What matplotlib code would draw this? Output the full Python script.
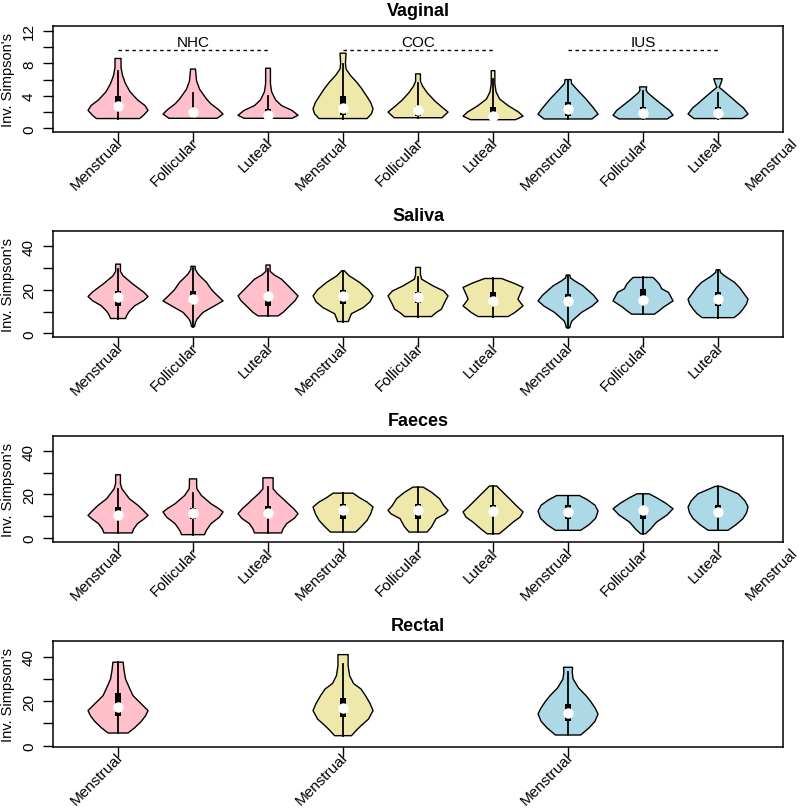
import matplotlib
matplotlib.use("Agg")
import matplotlib.pyplot as plt
from matplotlib.patches import Polygon, Rectangle

plt.rcParams['font.family'] = ['Liberation Sans', 'DejaVu Sans']

phases = ["Menstrual", "Follicular", "Luteal"] * 3
groups = ["NHC", "COC", "IUS"]
fills = ["#FFC0CB"] * 3 + ["#EEE8AA"] * 3 + ["#ADD8E6"] * 3

# violin outlines: (value, relative half width), bottom to top
vag_shape = [
    [(1.2, .72), (1.6, .85), (2.2, 1.0), (2.8, .9), (3.5, .65), (4.5, .4), (5.5, .25), (6.5, .15), (7.5, .1), (8.6, .1)],
    [(1.23, .8), (1.75, 1.0), (2.3, .85), (3.0, .6), (3.6, .45), (4.8, .22), (5.8, .12), (7.3, .08)],
    [(1.23, .8), (1.6, 1.0), (2.2, .8), (2.8, .45), (3.5, .25), (4.5, .12), (5.5, .08), (7.4, .08)],
    [(1.2, .8), (1.8, .95), (2.4, 1.0), (3.2, .92), (4.0, .78), (5.0, .6), (5.7, .45), (6.5, .25), (7.3, .1), (8.0, .08), (9.25, .1)],
    [(1.3, .8), (2.0, 1.0), (2.6, .8), (3.4, .55), (4.4, .3), (5.2, .15), (5.8, .08), (6.7, .08)],
    [(1.06, .75), (1.5, 1.0), (2.0, .85), (2.8, .5), (3.6, .22), (4.5, .1), (5.5, .06), (7.1, .06)],
    [(1.15, .8), (1.75, 1.0), (2.5, .85), (3.6, .6), (4.3, .42), (4.85, .28), (5.5, .12), (6.0, .1)],
    [(1.15, .8), (1.6, 1.0), (2.2, .88), (2.8, .67), (3.6, .4), (4.4, .15), (4.7, .1), (5.1, .12)],
    [(1.2, .8), (1.75, 1.0), (2.5, .85), (3.2, .62), (3.6, .5), (4.4, .25), (5.05, .04), (5.6, .1), (6.1, .14)],
]
# (whisker low, q1, median, q3, whisker high)
vag_box = [(1.2, 2.2, 2.7, 4.0, 7.1), (1.23, 1.5, 2.0, 2.5, 4.4), (1.23, 1.3, 1.65, 2.4, 4.0),
           (1.2, 1.65, 2.5, 4.0, 7.9), (1.3, 1.55, 2.2, 2.8, 5.6), (1.06, 1.35, 1.55, 2.6, 6.1),
           (1.15, 1.55, 2.4, 3.2, 5.9), (1.15, 1.6, 1.9, 2.6, 4.6), (1.2, 1.55, 1.85, 2.6, 4.4)]

sal_shape = [
    [(6.8, .25), (8.5, .3), (10, .37), (12.6, .55), (15, .85), (16.9, 1.0), (19, .85), (22.6, .5), (26.4, .17), (28.5, .08), (31.8, .08)],
    [(3.1, .05), (5, .08), (6.5, .13), (9.6, .33), (12.5, .7), (14.9, 1.0), (17.5, .8), (20, .62), (23.4, .45), (27.2, .17), (29.5, .07), (30.8, .07)],
    [(8.0, .33), (9.6, .5), (12.6, .72), (15, .9), (17.2, 1.0), (20, .8), (24.9, .45), (26.9, .2), (28.5, .07), (31.4, .07)],
    [(5.4, .18), (7, .22), (9, .28), (11.8, .67), (14.5, .9), (17.2, 1.0), (20, .85), (23.4, .55), (26.5, .2), (28.8, .04)],
    [(7.7, .45), (9.5, .6), (11.1, .78), (14, .88), (17.2, 1.0), (19.5, .85), (21.8, .5), (24.9, .12), (27, .08), (30.3, .08)],
    [(7.7, .5), (9.5, .72), (12.6, 1.0), (14, .92), (15.7, .83), (18, .9), (21.1, 1.0), (23, .7), (25.2, .28)],
    [(2.6, .06), (4, .08), (5.7, .13), (9.6, .45), (12.5, .8), (14.9, 1.0), (17.5, .85), (21.8, .5), (24.1, .22), (25.5, .08), (26.8, .06)],
    [(8.8, .38), (10.5, .55), (11.9, .67), (14.9, 1.0), (17, .92), (18.8, .85), (20.5, .62), (22.5, .55), (24.5, .42), (25.7, .33)],
    [(7.2, .53), (9, .7), (11.1, .83), (13.5, .95), (15.7, 1.0), (18.5, .85), (21, .72), (23.4, .55), (26.4, .22), (28, .08), (29.2, .06)],
]
sal_box = [(6.8, 12.6, 16.5, 19.5, 29.5), (3.1, 13.3, 15.7, 19.5, 30.0), (8.0, 12.6, 17.2, 18.9, 29.5),
           (5.4, 13.3, 17.2, 20.0, 28.8), (7.7, 13.8, 16.5, 18.9, 26.0), (7.7, 12.6, 14.9, 19.1, 25.2),
           (2.6, 13.8, 14.9, 18.0, 26.5), (8.8, 14.5, 15.3, 20.3, 25.7), (7.2, 12.6, 15.7, 19.1, 29.0)]

fae_shape = [
    [(2.2, .47), (4, .52), (6.5, .65), (8.5, .85), (10.3, 1.0), (12.5, .85), (14.9, .67), (18, .38), (22.6, .13), (25, .08), (29.1, .08)],
    [(1.4, .38), (3.5, .45), (6.5, .6), (9.5, .88), (11.9, 1.0), (13.5, .85), (15.7, .6), (19.5, .28), (22.6, .13), (24.5, .12), (27.2, .12)],
    [(2.2, .45), (4, .5), (6.5, .62), (9, .88), (11.1, 1.0), (13.5, .85), (16, .65), (18, .5), (20.5, .3), (22.6, .17), (25, .17), (27.7, .17)],
    [(2.6, .42), (5, .6), (8, .8), (11, .92), (14.2, 1.0), (16.5, .8), (18.5, .55), (20.6, .33)],
    [(2.6, .3), (5, .45), (8.8, .6), (11, .9), (12.6, 1.0), (15, .85), (18, .72), (21, .45), (23.4, .17)],
    [(1.8, .2), (4, .4), (7.2, .67), (9.5, .9), (11.9, 1.0), (14.5, .8), (18, .55), (21, .33), (23.9, .12)],
    [(3.4, .42), (6, .7), (9, .92), (12.3, 1.0), (15, .9), (17.5, .65), (19.5, .38)],
    [(1.8, .08), (4, .25), (7.2, .45), (10.5, .8), (13.4, 1.0), (16, .75), (18.5, .45), (20.3, .2)],
    [(3.4, .33), (6, .6), (8.8, .83), (11.5, .95), (14.2, 1.0), (17, .9), (20.3, .67), (22.5, .3), (23.7, .1)],
]
fae_box = [(2.2, 8.5, 10.6, 14.2, 22.6), (1.4, 8.5, 11.6, 13.5, 20.9), (2.2, 9.1, 11.6, 14.6, 23.5),
           (2.6, 8.8, 12.6, 15.7, 20.6), (2.6, 8.8, 12.6, 15.7, 23.4), (1.8, 10.3, 12.3, 15.2, 23.9),
           (3.4, 8.8, 11.9, 15.2, 19.5), (1.8, 8.5, 12.6, 13.8, 20.3), (3.4, 10.3, 11.9, 15.2, 23.7)]

rec_pos = [1, 4, 7]
rec_shape = [
    [(5.7, .33), (8, .55), (11, .78), (13.5, .92), (15.8, 1.0), (18.5, .8), (22.5, .5), (26, .38), (30, .25), (34, .2), (37.6, .17)],
    [(4.5, .28), (7, .45), (9, .6), (12, .85), (15.8, 1.0), (19, .9), (22.5, .75), (25.5, .6), (28, .35), (31.5, .22), (36, .17), (41, .17)],
    [(4.8, .42), (8, .7), (11, .9), (14.3, 1.0), (17, .9), (20, .75), (22.5, .6), (26, .35), (30, .17), (33, .14), (35.3, .15)],
]
rec_box = [(5.7, 13.5, 17.3, 23.6, 37.6), (4.5, 13.1, 17.1, 21.5, 36.8), (4.8, 11.3, 14.6, 18.9, 33.3)]
rec_fills = [fills[0], fills[3], fills[6]]


def violin(ax, x, shape, stats, color):
    ys = [p[0] for p in shape]
    ws = [p[1] * 0.4 for p in shape]
    pts = [(x + w, y) for y, w in zip(ys, ws)] + [(x - w, y) for y, w in zip(ys[::-1], ws[::-1])]
    ax.add_patch(Polygon(pts, closed=True, fc=color, ec="black", lw=1.0, joinstyle="round", zorder=2))
    lo, q1, med, q3, hi = stats
    ax.plot([x, x], [lo, hi], color="black", lw=1.3, zorder=3)
    ax.add_patch(Rectangle((x - 0.037, q1), 0.074, q3 - q1, fc="black", ec="none", zorder=4))
    ax.plot(x, med, "o", ms=6.5, mfc="white", mec="white", zorder=5)


def tick_label(ax, x, text):
    ax.annotate(text, xy=(x, 0), xycoords=("data", "axes fraction"), xytext=(5.5, -11),
                textcoords="offset pixels", ha="right", va="baseline", rotation=45,
                rotation_mode="anchor", fontsize=11, annotation_clip=False)


W, H = 800, 812
fig = plt.figure(figsize=(W / 100, H / 100), dpi=100)
tops = [27, 232.3, 437.3, 642.3]
box_h = 105.7

panels = [
    ("Vaginal", vag_shape, vag_box, list(range(1, 10)), fills, (-0.42, 12.6), [0, 2, 4, 6, 8, 10, 12], True),
    ("Saliva", sal_shape, sal_box, list(range(1, 10)), fills, (-1.7, 46.9), [0, 10, 20, 30, 40], False),
    ("Faeces", fae_shape, fae_box, list(range(1, 10)), fills, (-2.0, 46.9), [0, 10, 20, 30, 40], True),
    ("Rectal", rec_shape, rec_box, rec_pos, rec_fills, (-0.6, 47.0), [0, 10, 20, 30, 40], False),
]

for (title, shapes, boxes, pos, cols, ylim, yt, extra), top in zip(panels, tops):
    ax = fig.add_axes([53.3 / W, 1 - (top + box_h) / H, 730 / W, box_h / H])
    for x, s, b, c in zip(pos, shapes, boxes, cols):
        violin(ax, x, s, b, c)
    ax.set_xlim(0.137, 9.87)
    ax.set_ylim(*ylim)
    ax.set_xticks(pos)
    ax.set_xticklabels([])
    for x in pos:
        tick_label(ax, x, phases[x - 1])
    if extra:
        tick_label(ax, 10, "Menstrual")
    ax.set_yticks(yt)
    ax.set_yticklabels([str(v) if v % (yt[2]) == 0 else "" for v in yt],
                       rotation=90, va="center", fontsize=11)
    ax.tick_params(direction="out", length=7.5, width=1, pad=5)
    for sp in ax.spines.values():
        sp.set_linewidth(1.1)
    ax.set_title(title, fontsize=13, fontweight="bold", pad=8)
    fig.text(8 / W, 1 - (top + box_h / 2) / H, "Inv. Simpson's", rotation=90,
             ha="center", va="center", fontsize=10.5)
    if title == "Vaginal":
        for g, gx in zip(groups, [2, 5, 8]):
            ax.plot([gx - 1, gx + 1], [9.6, 9.6], color="black", lw=1, ls=(0, (2.5, 2.5)))
            ax.text(gx, 10.6, g, ha="center", va="center", fontsize=11)

fig.savefig("out.png", dpi=100)
